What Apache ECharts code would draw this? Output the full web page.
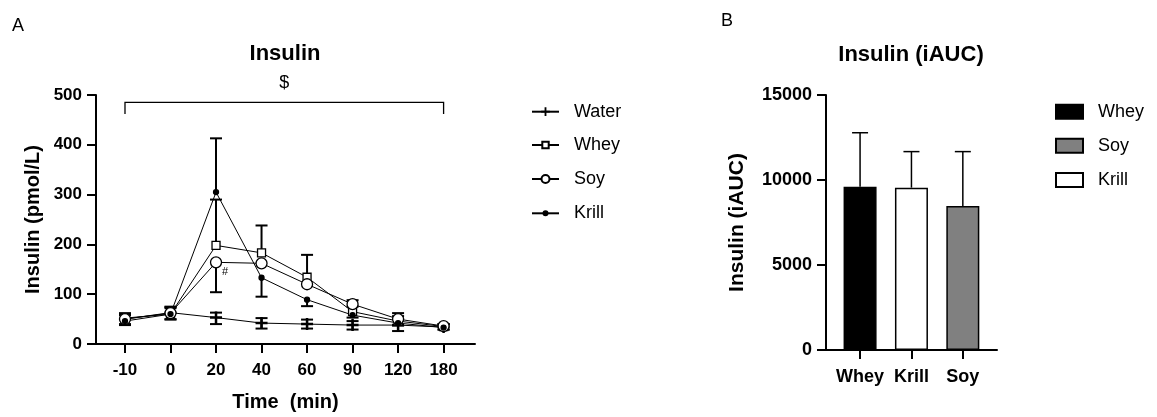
<!DOCTYPE html>
<html>
<head>
<meta charset="utf-8">
<script src="https://cdn.jsdelivr.net/npm/echarts@6/dist/echarts.min.js"></script>
<style>
  html, body { margin: 0; padding: 0; background: #fff; }
  #chart { width: 1157px; height: 417px; }
</style>
</head>
<body>
<div id="chart"></div>
<script>
// ---------- Panel A data (insulin time course, pmol/L) ----------
const timeLabels = ['-10', '0', '20', '40', '60', '90', '120', '180'];
const waterMean = [50, 63, 53, 42, 40, 38, 38, 34];
const waterErrUp = [10, 12, 10, 10, 9, 8, 12, 5];
const waterErrDown = [10, 14, 13, 11, 9, 9, 12, 5];
const wheyMean = [52, 60, 198, 183, 134, 65, 46, 35];
const wheyErrUp = [10, 14, 92, 55, 45, 10, 10, 5];
const wheyErrDown = [0, 0, 0, 0, 0, 0, 0, 0];
const soyMean = [50, 62, 164, 162, 120, 80, 50, 36];
const soyErrUp = [8, 10, 0, 0, 0, 8, 12, 4];
const soyErrDown = [0, 0, 60, 0, 0, 0, 0, 0];
const krillMean = [46, 60, 305, 133, 89, 58, 42, 33];
const krillErrUp = [0, 0, 108, 0, 0, 0, 0, 0];
const krillErrDown = [8, 10, 0, 38, 13, 5, 5, 4];

// ---------- Panel B data (iAUC) ----------
const aucCategories = ['Whey', 'Krill', 'Soy'];
const aucMean = [9600, 9550, 8470];
const aucErr = [3180, 2120, 3200];
const aucLegendOrder = ['Whey', 'Soy', 'Krill'];

const FONT = 'Liberation Sans, Arial, sans-serif';
const plusPath = 'path://M4.75,0h2.5v4.75h4.75v2.5h-4.75v4.75h-2.5v-4.75h-4.75v-2.5h4.75z';

function pts(arr) { return arr.map((v, i) => [i, v]); }
function errPts(mean, up, dn) { return mean.map((v, i) => [i, v, up[i], dn[i]]); }

function errRender(capHalf, lw) {
  return function (params, api) {
    const x = api.value(0), v = api.value(1), up = api.value(2), dn = api.value(3);
    const children = [];
    if (!(up > 0) && !(dn > 0)) return { type: 'group', children };
    const top = api.coord([x, v + (up || 0)]);
    const bot = api.coord([x, v - (dn || 0)]);
    const st = { stroke: '#000', lineWidth: lw };
    children.push({ type: 'line', shape: { x1: top[0], y1: top[1], x2: bot[0], y2: bot[1] }, style: st });
    if (up > 0) children.push({ type: 'line', shape: { x1: top[0] - capHalf, y1: top[1], x2: top[0] + capHalf, y2: top[1] }, style: st });
    if (dn > 0) children.push({ type: 'line', shape: { x1: bot[0] - capHalf, y1: bot[1], x2: bot[0] + capHalf, y2: bot[1] }, style: st });
    return { type: 'group', children };
  };
}

function errSeries(name, mean, up, dn) {
  return {
    name: name + ' err', type: 'custom', xAxisIndex: 0, yAxisIndex: 0, z: 3,
    renderItem: errRender(6, 2), data: errPts(mean, up, dn),
    encode: { x: 0, y: 1 }, silent: true
  };
}

function lineSeries(name, mean, symbol, size, fill) {
  return {
    name: name, type: 'line', xAxisIndex: 0, yAxisIndex: 0, z: 4,
    data: pts(mean), symbol: symbol, symbolSize: size, showAllSymbol: true,
    lineStyle: { color: '#000', width: 1 },
    itemStyle: { color: fill, borderColor: '#000', borderWidth: symbol === plusPath ? 0 : 1.3 },
    emphasis: { disabled: true }, animation: false
  };
}

const barColors = { Whey: '#000000', Krill: '#ffffff', Soy: '#808080' };

const series = [
  errSeries('Water', waterMean, waterErrUp, waterErrDown),
  errSeries('Whey', wheyMean, wheyErrUp, wheyErrDown),
  errSeries('Soy', soyMean, soyErrUp, soyErrDown),
  errSeries('Krill', krillMean, krillErrUp, krillErrDown),
  lineSeries('Water', waterMean, plusPath, 12, '#000'),
  lineSeries('Whey', wheyMean, 'rect', 8, '#fff'),
  lineSeries('Soy', soyMean, 'circle', 11, '#fff'),
  lineSeries('Krill', krillMean, 'circle', 5, '#000'),
  // bracket, $ and # annotations placed in data coordinates
  {
    type: 'custom', xAxisIndex: 0, yAxisIndex: 0, z: 5, silent: true,
    data: [[0, 7, 485, 462]],
    encode: { x: 0, y: 2 },
    renderItem: function (params, api) {
      const a = api.coord([api.value(0), api.value(2)]);
      const b = api.coord([api.value(1), api.value(2)]);
      const a2 = api.coord([api.value(0), api.value(3)]);
      const b2 = api.coord([api.value(1), api.value(3)]);
      const mid = api.coord([(api.value(0) + api.value(1)) / 2, 524]);
      const hash = api.coord([2, 144]);
      return {
        type: 'group', children: [
          { type: 'polyline', shape: { points: [a2, a, b, b2] }, style: { stroke: '#000', lineWidth: 1.3, fill: null } },
          { type: 'text', x: mid[0], y: mid[1], style: { text: '$', fill: '#000', font: '18px ' + FONT, align: 'center', verticalAlign: 'middle' } },
          { type: 'text', x: hash[0] + 9, y: hash[1], style: { text: '#', fill: '#000', font: '11px ' + FONT, align: 'center', verticalAlign: 'middle' } }
        ]
      };
    }
  }
];

aucCategories.forEach((c, i) => {
  series.push({
    name: c + ' AUC', type: 'bar', xAxisIndex: 1, yAxisIndex: 1,
    data: [[i, aucMean[i]]], barWidth: 33, barGap: '-100%',
    itemStyle: { color: barColors[c], borderColor: '#000', borderWidth: 1.5 },
    emphasis: { disabled: true }, animation: false, z: 2
  });
});
series.push({
  type: 'custom', xAxisIndex: 1, yAxisIndex: 1, z: 3, silent: true,
  data: aucMean.map((v, i) => [i, v, aucErr[i], 0]),
  encode: { x: 0, y: 1 },
  renderItem: errRender(8, 1.5)
});

const legendSizesA = { Water: 11, Whey: 8, Soy: 10, Krill: 5 };
const legendCentersA = [111.7, 145, 179, 213.3];
const legendsA = ['Water', 'Whey', 'Soy', 'Krill'].map((n, k) => ({
  data: [n], left: 531, top: legendCentersA[k] - 10, orient: 'vertical', padding: 0,
  itemWidth: 27, itemHeight: legendSizesA[n], selectedMode: false,
  textStyle: { fontFamily: FONT, fontSize: 18, color: '#000', padding: [0, 0, 0, 10], lineHeight: 20 },
  lineStyle: { width: 2 }
}));
const legendCentersB = [111.7, 145.7, 180];
const legendsB = aucLegendOrder.map((n, k) => ({
  data: [{ name: n + ' AUC', icon: 'rect' }], left: 1055, top: legendCentersB[k] - 10, padding: 0,
  itemWidth: 27, itemHeight: 14, selectedMode: false,
  formatter: name => name.replace(' AUC', ''),
  textStyle: { fontFamily: FONT, fontSize: 18, color: '#000', padding: [0, 0, 0, 10], lineHeight: 20 }
}));

const axisCommon = {
  axisLine: { show: true, onZero: false, lineStyle: { color: '#000', width: 2 } },
  axisTick: { show: true, inside: false, length: 9, lineStyle: { color: '#000', width: 2 } },
  splitLine: { show: false }
};

const option = {
  animation: false,
  backgroundColor: '#fff',
  textStyle: { fontFamily: FONT },
  title: [
    { text: 'A', left: 12, top: 17, padding: 0, textStyle: { fontFamily: FONT, fontSize: 18, fontWeight: 'normal', color: '#000' } },
    { text: 'B', left: 721, top: 12, padding: 0, textStyle: { fontFamily: FONT, fontSize: 18, fontWeight: 'normal', color: '#000' } },
    { text: 'Insulin', left: 285, top: 43, textAlign: 'center', padding: 0, textStyle: { fontFamily: FONT, fontSize: 22, fontWeight: 'bold', color: '#000' } },
    { text: 'Insulin (iAUC)', left: 911, top: 44, textAlign: 'center', padding: 0, textStyle: { fontFamily: FONT, fontSize: 22, fontWeight: 'bold', color: '#000' } }
  ],
  legend: legendsA.concat(legendsB),
  grid: [
    { left: 96, top: 95, width: 379, height: 252, containLabel: false },
    { left: 826, top: 95, width: 171, height: 255, containLabel: false }
  ],
  xAxis: [
    Object.assign({}, axisCommon, {
      type: 'value', gridIndex: 0, min: -0.637, max: 7.69,
      axisTick: Object.assign({}, axisCommon.axisTick, { customValues: timeLabels.map((t, i) => i) }),
      axisLabel: { customValues: timeLabels.map((t, i) => i), formatter: v => timeLabels[Math.round(v)], margin: 18,
        fontFamily: FONT, fontSize: 17, fontWeight: 'bold', color: '#000' },
      name: 'Time  (min)', nameLocation: 'middle', nameGap: 48,
      nameTextStyle: { fontFamily: FONT, fontSize: 20, fontWeight: 'bold', color: '#000' }
    }),
    Object.assign({}, axisCommon, {
      type: 'value', gridIndex: 1, min: -0.663, max: 2.665,
      axisTick: Object.assign({}, axisCommon.axisTick, { customValues: aucCategories.map((t, i) => i) }),
      axisLabel: { customValues: aucCategories.map((t, i) => i), formatter: v => aucCategories[Math.round(v)], margin: 18,
        fontFamily: FONT, fontSize: 18, fontWeight: 'bold', color: '#000' }
    })
  ],
  yAxis: [
    Object.assign({}, axisCommon, {
      type: 'value', gridIndex: 0, min: 0, max: 500, interval: 100,
      axisLabel: { margin: 14, fontFamily: FONT, fontSize: 17, fontWeight: 'bold', color: '#000' },
      name: 'Insulin (pmol/L)', nameLocation: 'middle', nameGap: 53,
      nameTextStyle: { fontFamily: FONT, fontSize: 20, fontWeight: 'bold', color: '#000' }
    }),
    Object.assign({}, axisCommon, {
      type: 'value', gridIndex: 1, min: 0, max: 15000, interval: 5000,
      axisLabel: { margin: 14, fontFamily: FONT, fontSize: 18, fontWeight: 'bold', color: '#000', formatter: v => String(v) },
      name: 'Insulin (iAUC)', nameLocation: 'middle', nameGap: 78,
      nameTextStyle: { fontFamily: FONT, fontSize: 21, fontWeight: 'bold', color: '#000' }
    })
  ],
  series: series
};

const chart = echarts.init(document.getElementById('chart'), null, { renderer: 'canvas' });
chart.setOption(option);
</script>
</body>
</html>
